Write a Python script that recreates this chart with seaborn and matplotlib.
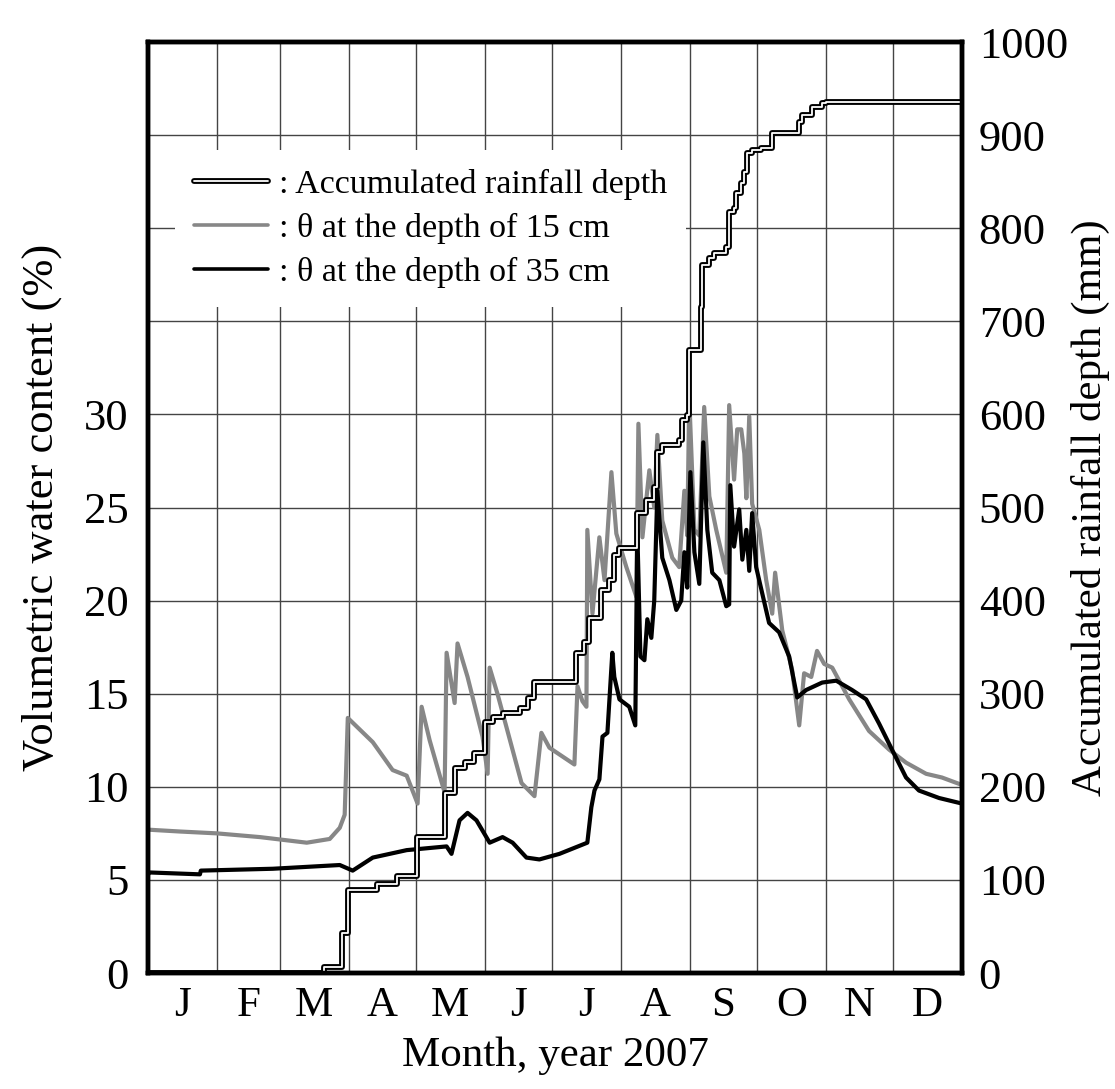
import matplotlib
matplotlib.use("Agg")
import matplotlib.pyplot as plt
import numpy as np
import seaborn as sns

# --- data (x = day of year 2007) ---
month_labels = ["J", "F", "M", "A", "M", "J", "J", "A", "S", "O", "N", "D"]
month_days = [31, 28, 31, 30, 31, 30, 31, 31, 30, 31, 30, 31]

# accumulated rainfall (mm), step changes
rain_day = [0, 79, 87, 89.6, 102.6, 111.5, 120.5, 133, 137.5, 142, 146.4, 150.9,
            154.5, 159, 166.6, 170.2, 173.3, 192.1, 195.7, 197.9, 203.3, 206.9,
            209.1, 211.4, 219.4, 223.5, 227, 228.4, 230.7, 238.2, 239.6, 241.8,
            242.7, 248, 248.5, 251.6, 253.9, 259.2, 260.6, 262.8, 263.7, 266,
            267.3, 268.7, 270.9, 275, 279.9, 292, 293.3, 297.8, 302.3, 304.1, 365]
rain_mm = [0, 7, 43, 89, 96, 104, 146, 193, 220, 227, 236, 270,
           275, 279, 285, 295, 313, 344, 356, 381, 411, 422,
           449, 456, 494, 508, 522, 560, 567, 573, 594, 599,
           669, 715, 760, 768, 773, 780, 817, 822, 838, 849,
           860, 881, 884, 886, 902, 914, 922, 930, 934, 936, 936]

# volumetric water content at 15 cm (%)
theta15_day = [0, 14.3, 30.9, 50.2, 71.2, 81.5, 86, 88.2, 89.6, 100.8, 109.7, 116,
               120.9, 122.7, 126.3, 133, 133.9, 137.5, 138.8, 143.3, 150, 152.3,
               153.2, 156.7, 167.5, 173.3, 176.4, 180, 191.2, 192.6, 194.8, 196.6,
               197, 199.3, 202.4, 204.7, 207.8, 210, 214.5, 219, 219.9, 221.7,
               224.8, 227, 228.4, 230.6, 235.1, 238.2, 240.5, 241.8, 242.7, 245,
               247.2, 249.4, 251.7, 254.8, 259.3, 260.6, 262.8, 264.2, 266, 267.4,
               268.3, 269.6, 270.9, 274.1, 277.2, 279.9, 281.2, 284.4, 288.8, 292,
               294.2, 297.4, 300, 303.2, 306.8, 314.4, 323.3, 332.3, 339.9, 348.9,
               356, 365]
theta15 = [7.7, 7.6, 7.5, 7.3, 7.0, 7.2, 7.8, 8.5, 13.7, 12.4, 10.9, 10.6,
           9.1, 14.3, 12.5, 9.7, 17.2, 14.5, 17.7, 15.9, 12.7, 10.7,
           16.4, 15.0, 10.2, 9.5, 12.9, 12.1, 11.2, 15.4, 14.6, 14.3,
           23.8, 19.3, 23.4, 21.1, 26.9, 23.6, 21.8, 20.2, 29.5, 23.4,
           27.0, 25.0, 28.9, 24.3, 22.3, 21.8, 25.9, 23.5, 30.9, 23.8,
           23.5, 30.4, 25.6, 23.8, 21.5, 30.5, 26.5, 29.2, 29.2, 27.9,
           25.5, 29.9, 25.2, 23.8, 21.1, 19.3, 21.5, 18.4, 16.3, 13.3,
           16.1, 15.9, 17.3, 16.6, 16.4, 14.7, 13.0, 12.0, 11.3, 10.7,
           10.5, 10.1]

# volumetric water content at 35 cm (%)
theta35_day = [0, 0.9, 23.3, 23.7, 56, 86, 91.8, 100.8, 116, 133.9, 136.1, 139.7,
               143.3, 147.3, 153.2, 159, 163.5, 169.7, 175.5, 184.5, 197, 198.8,
               200.2, 202.4, 203.8, 206, 208.2, 209.1, 211.4, 215.8, 218.5, 219.4,
               220.8, 222.6, 223.9, 225.7, 227, 228.4, 230.6, 233.8, 236.9, 239.1,
               240.5, 241.8, 243.2, 245, 247.2, 249, 250.8, 253, 256.2, 259.3,
               260.6, 261.1, 262.8, 265.1, 266.5, 268.3, 269.6, 270.9, 272.7, 275.4,
               278.5, 283, 287.5, 291.1, 295.1, 302.3, 308.6, 315.7, 322, 327.8,
               333.6, 339.9, 345.7, 354.7, 365]
theta35 = [5.3, 5.4, 5.3, 5.5, 5.6, 5.8, 5.5, 6.2, 6.6, 6.8, 6.4, 8.2,
           8.6, 8.2, 7.0, 7.3, 7.0, 6.2, 6.1, 6.4, 7.0, 8.9,
           9.8, 10.4, 12.7, 12.9, 17.2, 15.9, 14.7, 14.3, 13.3, 23.8,
           17.0, 16.8, 19.0, 18.0, 20.0, 25.9, 22.3, 21.1, 19.5, 20.0,
           22.6, 20.7, 26.9, 22.6, 20.9, 28.5, 23.8, 21.5, 21.1, 19.7,
           19.8, 26.2, 22.9, 24.9, 22.2, 23.8, 21.6, 24.7, 21.8, 20.4,
           18.8, 18.3, 17.0, 14.8, 15.2, 15.6, 15.7, 15.2, 14.7, 13.4,
           12.0, 10.5, 9.8, 9.4, 9.1]

legend_labels = [": Accumulated rainfall depth",
                 ": \u03b8 at the depth of 15 cm",
                 ": \u03b8 at the depth of 35 cm"]

# --- style ---
sns.set_style("white")
plt.rcParams["font.family"] = ["Liberation Serif", "DejaVu Serif"]
plt.rcParams["text.color"] = "black"
plt.rcParams["axes.labelcolor"] = "black"
plt.rcParams["xtick.color"] = "black"
plt.rcParams["ytick.color"] = "black"

fig = plt.figure(figsize=(11.15, 10.89), dpi=100)
ax = fig.add_axes([0.1327, 0.1065, 0.7301, 0.8549])
ax2 = ax.twinx()

gray = "#878787"
sns.lineplot(x=theta15_day, y=theta15, ax=ax, color=gray, lw=3,
             estimator=None, sort=False)
sns.lineplot(x=theta35_day, y=theta35, ax=ax, color="black", lw=3,
             estimator=None, sort=False)

# rainfall: black line with a thin white core
sns.lineplot(x=rain_day, y=rain_mm, ax=ax2, color="black", lw=4.2,
             drawstyle="steps-post", estimator=None, sort=False)
sns.lineplot(x=rain_day, y=rain_mm, ax=ax2, color="white", lw=1.3,
             drawstyle="steps-post", estimator=None, sort=False)

# axes limits / ticks
bounds = np.cumsum([0] + month_days)
centers = (bounds[:-1] + bounds[1:]) / 2
ax.set_xlim(0, 365)
ax.set_ylim(0, 50)
ax2.set_ylim(0, 1000)

ax.set_xticks(bounds[1:-1])
ax.set_xticklabels([])
ax.set_xticks(centers, minor=True)
ax.set_xticklabels(month_labels, minor=True, fontsize=31)
ax.tick_params(axis="x", which="both", length=0)
ax.tick_params(axis="x", which="minor", pad=10)

yt = np.arange(0, 55, 5)
ax.set_yticks(yt)
ax.set_yticklabels([str(v) if v <= 30 else "" for v in yt], fontsize=32)
ax.tick_params(axis="y", length=0, pad=14)
ax2.set_yticks(np.arange(0, 1100, 100))
ax2.set_yticklabels([str(v) for v in range(0, 1100, 100)], fontsize=32)
ax2.tick_params(axis="y", length=0, pad=12)

ax.grid(True, which="major", color="#444444", lw=1.0)
ax.set_axisbelow(True)
ax2.grid(False)

for a in (ax, ax2):
    for sp in a.spines.values():
        sp.set_linewidth(3.2)
        sp.set_color("black")

ax.set_xlabel("Month, year 2007", fontsize=31, labelpad=8)
ax.set_ylabel("Volumetric water content (%)", fontsize=32, labelpad=16)
ax2.set_ylabel("Accumulated rainfall depth (mm)", fontsize=31, labelpad=2)

# legend
h_rain = (plt.Line2D([], [], color="black", lw=4.2),
          plt.Line2D([], [], color="white", lw=1.3))
h15 = plt.Line2D([], [], color=gray, lw=2.6)
h35 = plt.Line2D([], [], color="black", lw=2.6)
leg = ax2.legend([h_rain, h15, h35], legend_labels, loc="upper left",
                 bbox_to_anchor=(0.033, 0.884), borderaxespad=0,
                 fontsize=24.5, handlelength=2.2, handletextpad=0.3,
                 labelspacing=0.38, frameon=True, fancybox=False,
                 borderpad=0.55)
leg.get_frame().set_facecolor("white")
leg.get_frame().set_edgecolor("none")
leg.get_frame().set_alpha(1.0)

fig.savefig("out.png", dpi=100)
